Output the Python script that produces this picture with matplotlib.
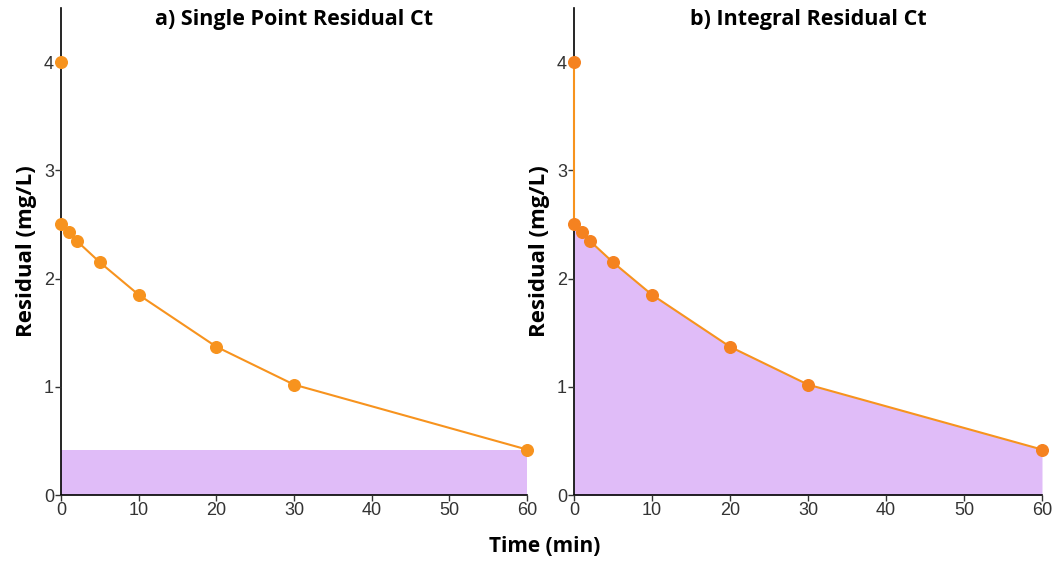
import matplotlib
matplotlib.use("Agg")
import matplotlib.pyplot as plt

# Residual chlorine measurements over contact time
time_min = [0, 0, 1, 2, 5, 10, 20, 30, 60]
residual = [4.0, 2.5, 2.43, 2.35, 2.15, 1.85, 1.37, 1.02, 0.42]

x_ticks = [0, 10, 20, 30, 40, 50, 60]
y_ticks = [0, 1, 2, 3, 4]
titles = ["a) Single Point Residual Ct", "b) Integral Residual Ct"]

orange = "#f7931e"
purple = "#e0bcf8"
tick_font = "Liberation Sans"
label_font = "Open Sans"

fig = plt.figure(figsize=(10.55, 5.62), dpi=100)
W, H = 1055, 562
ax_left = fig.add_axes([61 / W, 1 - 495 / H, 466 / W, 487 / H])
ax_right = fig.add_axes([574 / W, 1 - 495 / H, 468 / W, 487 / H])

for ax, title in zip([ax_left, ax_right], titles):
    ax.set_xlim(0, 60)
    ax.set_ylim(0, 4.5)
    ax.set_xticks(x_ticks)
    ax.set_yticks(y_ticks)
    for s in ["top", "right"]:
        ax.spines[s].set_visible(False)
    for s in ["left", "bottom"]:
        ax.spines[s].set_color("black")
        ax.spines[s].set_linewidth(1.2)
        ax.spines[s].set_zorder(1)
    ax.tick_params(length=4, width=1, pad=1, labelsize=13, colors="#333333")
    for lab in ax.get_xticklabels() + ax.get_yticklabels():
        lab.set_fontfamily(tick_font)
    ax.text(0.5, 1 - 12 / 487, title, transform=ax.transAxes, ha="center", va="center",
            fontsize=15.5, fontweight="bold", family=label_font)
    ax.set_ylabel("Residual (mg/L)", fontsize=16, fontweight="bold", family=label_font, labelpad=5)

# a) single point: final residual held over the whole contact time
ax_left.fill_between([time_min[0], time_min[-1]], 0, residual[-1], color=purple, lw=0, zorder=0)
ax_left.plot(time_min[1:], residual[1:], color=orange, lw=1.5, zorder=2, clip_on=False)
ax_left.scatter(time_min, residual, s=70, color=orange, zorder=3, clip_on=False)

# b) integral: area under the residual decay curve
ax_right.fill_between(time_min, 0, residual, color=purple, lw=0, zorder=0)
ax_right.plot(time_min, residual, color=orange, lw=1.5, zorder=2, clip_on=False)
ax_right.scatter(time_min, residual, s=70, color="#f58220", zorder=3, clip_on=False)

fig.text(545 / W, 1 - 547 / H, "Time (min)", ha="center", va="center",
         fontsize=15, fontweight="bold", family=label_font)

fig.savefig("out.png", dpi=100)
